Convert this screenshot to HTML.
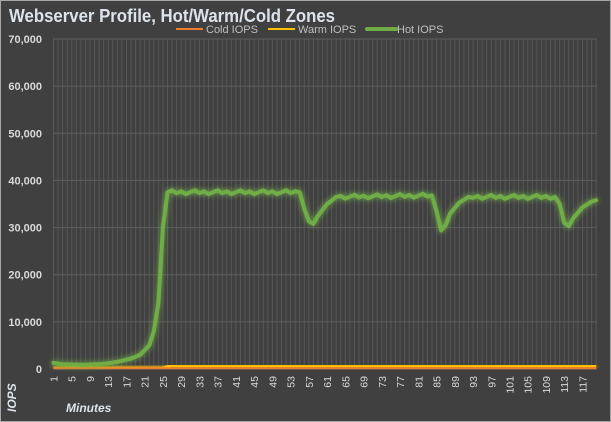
<!DOCTYPE html>
<html><head><meta charset="utf-8"><style>
html,body{margin:0;padding:0;background:#404040;}
svg{display:block;font-family:"Liberation Sans",sans-serif;}
</style></head><body>
<svg id="s" width="611" height="422" xmlns="http://www.w3.org/2000/svg">
<defs>
<filter id="g" x="-10%" y="-10%" width="120%" height="120%"><feGaussianBlur stdDeviation="3" result="b"/><feMerge><feMergeNode in="b"/><feMergeNode in="SourceGraphic"/></feMerge></filter>
</defs>
<rect x="0.5" y="0.5" width="610" height="421" fill="#404040" stroke="#a6a6a6"/>
<text x="9" y="22" font-size="18" font-weight="bold" fill="#dde3ea" textLength="326" lengthAdjust="spacingAndGlyphs">Webserver Profile, Hot/Warm/Cold Zones</text>
<line x1="176" y1="29" x2="203" y2="29" stroke="#ed7d31" stroke-width="2"/>
<text x="206" y="33" font-size="11" fill="#bfbfbf">Cold IOPS</text>
<line x1="268" y1="29" x2="295" y2="29" stroke="#ffc000" stroke-width="2"/>
<text x="298" y="33" font-size="11" fill="#bfbfbf">Warm IOPS</text>
<line x1="367" y1="29" x2="396" y2="29" stroke="#70ad47" stroke-width="4" stroke-linecap="round"/>
<text x="397" y="33" font-size="11" fill="#bfbfbf">Hot IOPS</text>
<g id="grid"></g>
<g id="lab" font-size="11" fill="#d9d9d9" font-weight="bold"></g>
<g id="xl" font-size="10.5" fill="#d9d9d9"></g>
<text transform="translate(16,412) rotate(-90)" font-size="12" font-weight="bold" font-style="italic" fill="#dde3ea">IOPS</text>
<text x="66" y="412" font-size="12" font-weight="bold" font-style="italic" fill="#dde3ea">Minutes</text>
<g id="ser"></g>
</svg>
<script>
var NS="http://www.w3.org/2000/svg";
function el(p,t,a,txt){var e=document.createElementNS(NS,t);for(var k in a)e.setAttribute(k,a[k]);if(txt!=null)e.textContent=txt;p.appendChild(e);return e;}
var X0=53.5,DX=4.56,Y0=369,SY=330/70000;
function X(i){return X0+(i-1)*DX;}function Y(v){return Y0-v*SY;}
var g=document.getElementById('grid');
for(var i=1;i<=120;i++){el(g,'line',{x1:X(i),x2:X(i),y1:39,y2:369,stroke:'#575757','stroke-width':1});}
var lab=document.getElementById('lab');
for(var v=0;v<=70000;v+=10000){el(g,'line',{x1:53,x2:597,y1:Y(v),y2:Y(v),stroke:'#5e5e5e'});
el(lab,'text',{x:42,y:Y(v)+4,'text-anchor':'end'},v==0?'0':(v/1000)+',000');}
var xl=document.getElementById('xl');
for(var i=1;i<=117;i+=4){el(xl,'text',{transform:'translate('+(X(i)+4)+',376) rotate(-90)','text-anchor':'end'},i);}
var k=[[1,1300],[3,1000],[8,900],[12,1100],[15,1500],[18,2200],[20,3000],[22,5000],[23,8000],[24,14000],[25,30000],[26,37500],[55,37500],[56,34000],[57,31300],[58,30800],[59,32500],[61,35000],[63,36500],[84,36800],[85,33500],[86,29400],[87,30500],[88,33000],[90,35300],[92,36500],[111,36500],[112,35000],[113,31000],[114,30300],[115,32000],[117,34300],[119,35500],[120,35800]];
var hot=[];for(var i=1;i<=120;i++){for(var j=0;j<k.length-1;j++){if(i>=k[j][0]&&i<=k[j+1][0]){var t=(i-k[j][0])/(k[j+1][0]-k[j][0]);hot.push(k[j][1]+t*(k[j+1][1]-k[j][1]));break;}}}
for(var i=27;i<120;i++){var plateau=(i<55)||(i>63&&i<84)||(i>92&&i<111);if(plateau)hot[i-1]+=((i*37)%5-2)*200;}
function path(arr){return arr.map(function(v,i){return(i?'L':'M')+X(i+1).toFixed(1)+','+Y(v).toFixed(1);}).join('');}
var s=document.getElementById('ser');
var cold=[],warm=[];for(var i=1;i<=120;i++){cold.push(150);warm.push(i<26?200:i<27?500:700);}
el(s,'path',{d:path(warm),fill:'none',stroke:'#ffc000','stroke-width':3,filter:'url(#g)'});
el(s,'path',{d:path(cold),fill:'none',stroke:'#ed7d31','stroke-width':2});
el(s,'path',{d:path(hot),fill:'none',stroke:'#70ad47','stroke-width':4,'stroke-linejoin':'round','stroke-linecap':'round',filter:'url(#g)'});
</script>
</body></html>
